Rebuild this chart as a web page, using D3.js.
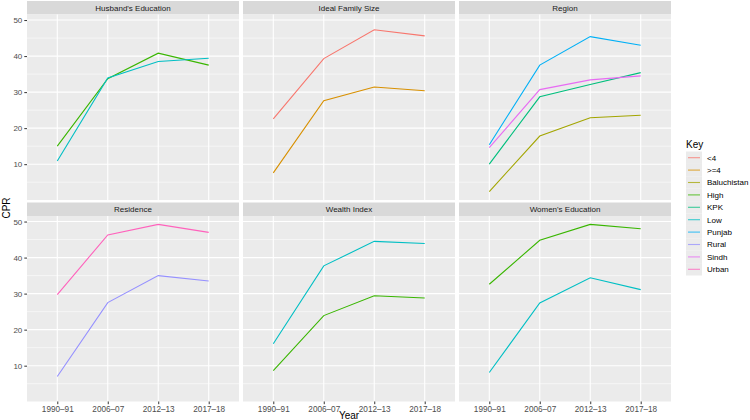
<!DOCTYPE html>
<html>
<head>
<meta charset="utf-8">
<script src="https://cdn.jsdelivr.net/npm/d3@7"></script>
<style>
  body { margin: 0; background: #fff; }
  svg text { font-family: "Liberation Sans", Arial, sans-serif; }
</style>
</head>
<body>
<div id="chart"></div>
<script>
// --- Data ---
const years = ["1990–91", "2006–07", "2012–13", "2017–18"];
const keys = ["<4", ">=4", "Baluchistan", "High", "KPK", "Low", "Punjab", "Rural", "Sindh", "Urban"];
const keyColors = ["#F8766D", "#D89000", "#A3A500", "#39B600", "#00BF7D",
                   "#00BFC4", "#00B0F6", "#9590FF", "#E76BF3", "#FF62BC"];
const panelNames = ["Husband's Education", "Ideal Family Size", "Region",
                    "Residence", "Wealth Index", "Women's Education"];
const yTicks = [10, 20, 30, 40, 50];

const husbandHigh = [15.0, 33.7, 40.8, 37.5];
const husbandLow = [10.9, 33.9, 38.5, 39.4];
const familyLt4 = [22.6, 39.3, 47.3, 45.6];
const familyGe4 = [7.6, 27.6, 31.4, 30.4];
const regionBaluchistan = [2.4, 17.8, 22.9, 23.6];
const regionKPK = [10.0, 28.7, 32.1, 35.4];
const regionPunjab = [15.4, 37.5, 45.4, 43.0];
const regionSindh = [14.6, 30.7, 33.4, 34.5];
const residenceRural = [7.0, 27.5, 35.0, 33.5];
const residenceUrban = [29.7, 46.3, 49.2, 47.0];
const wealthHigh = [8.6, 23.9, 29.4, 28.8];
const wealthLow = [16.1, 37.7, 44.5, 43.9];
const womenHigh = [32.6, 44.8, 49.2, 48.0];
const womenLow = [8.1, 27.4, 34.4, 31.1];

const panelSeries = [
    [{ key: "High", values: husbandHigh }, { key: "Low", values: husbandLow }],
    [{ key: "<4", values: familyLt4 }, { key: ">=4", values: familyGe4 }],
    [{ key: "Baluchistan", values: regionBaluchistan }, { key: "KPK", values: regionKPK },
     { key: "Punjab", values: regionPunjab }, { key: "Sindh", values: regionSindh }],
    [{ key: "Rural", values: residenceRural }, { key: "Urban", values: residenceUrban }],
    [{ key: "High", values: wealthHigh }, { key: "Low", values: wealthLow }],
    [{ key: "High", values: womenHigh }, { key: "Low", values: womenLow }]
];

// --- Layout ---
const width = 750, height = 420;
const colX = [27, 243, 459];
const panelW = 212;
const stripTop = [1, 202.5];
const stripH = 13.5;
const panelH = 185.5;

const svg = d3.select("#chart").append("svg")
    .attr("width", width)
    .attr("height", height);

const color = d3.scaleOrdinal().domain(keys).range(keyColors);

// y domain with ggplot-style 5% expansion
const allVals = panelSeries.flat().flatMap(s => s.values);
const [yMin, yMax] = d3.extent(allVals);
const pad = (yMax - yMin) * 0.05;

const x = d3.scalePoint().domain(years).range([0, panelW]).padding(0.6);
const y = d3.scaleLinear().domain([yMin - pad, yMax + pad]).range([panelH, 0]);
const minorTicks = d3.range(5, 51, 10);

const line = d3.line()
    .x((d, i) => x(years[i]))
    .y(d => y(d));

panelNames.forEach((name, p) => {
    const col = p % 3, row = Math.floor(p / 3);
    const g = svg.append("g")
        .attr("transform", `translate(${colX[col]},${stripTop[row]})`);

    // strip
    g.append("rect")
        .attr("width", panelW).attr("height", stripH)
        .attr("fill", "#D9D9D9");
    g.append("text")
        .attr("x", panelW / 2).attr("y", stripH / 2)
        .attr("dy", "0.35em")
        .attr("text-anchor", "middle")
        .attr("font-size", 8)
        .attr("fill", "#1A1A1A")
        .text(name);

    const pg = g.append("g").attr("transform", `translate(0,${stripH})`);
    pg.append("rect")
        .attr("width", panelW).attr("height", panelH)
        .attr("fill", "#EBEBEB");

    // grid
    pg.selectAll(".minor").data(minorTicks).enter().append("line")
        .attr("x1", 0).attr("x2", panelW)
        .attr("y1", d => y(d)).attr("y2", d => y(d))
        .attr("stroke", "#fff").attr("stroke-width", 0.55);
    pg.selectAll(".majorY").data(yTicks).enter().append("line")
        .attr("x1", 0).attr("x2", panelW)
        .attr("y1", d => y(d)).attr("y2", d => y(d))
        .attr("stroke", "#fff").attr("stroke-width", 1.1);
    pg.selectAll(".majorX").data(years).enter().append("line")
        .attr("x1", d => x(d)).attr("x2", d => x(d))
        .attr("y1", 0).attr("y2", panelH)
        .attr("stroke", "#fff").attr("stroke-width", 1.1);

    // lines
    panelSeries[p].forEach(s => {
        pg.append("path")
            .datum(s.values)
            .attr("d", line)
            .attr("fill", "none")
            .attr("stroke", color(s.key))
            .attr("stroke-width", 1.1);
    });

    // axes
    if (col === 0) {
        const ya = pg.append("g").call(d3.axisLeft(y).tickValues(yTicks).tickSize(2.7).tickPadding(2));
        ya.select(".domain").remove();
        ya.selectAll("line").attr("stroke", "#333");
        ya.selectAll("text").attr("font-size", 8).attr("fill", "#4D4D4D");
    }
    if (row === 1) {
        const xa = pg.append("g").attr("transform", `translate(0,${panelH})`)
            .call(d3.axisBottom(x).tickSize(2.7).tickPadding(1.5));
        xa.select(".domain").remove();
        xa.selectAll("line").attr("stroke", "#333");
        xa.selectAll("text").attr("font-size", 8.2).attr("fill", "#4D4D4D");
    }
});

// axis titles
svg.append("text")
    .attr("x", (colX[0] + colX[2] + panelW) / 2).attr("y", 419)
    .attr("text-anchor", "middle")
    .attr("font-size", 10)
    .attr("fill", "#000")
    .text("Year");
svg.append("text")
    .attr("transform", `translate(9.5,${(stripTop[0] + stripH + stripTop[1] + stripH + panelH) / 2}) rotate(-90)`)
    .attr("text-anchor", "middle")
    .attr("font-size", 10)
    .attr("fill", "#000")
    .text("CPR");

// legend
const legend = svg.append("g").attr("transform", "translate(686,0)");
legend.append("text")
    .attr("x", 0).attr("y", 148)
    .attr("font-size", 10)
    .attr("fill", "#000")
    .text("Key");
const itemH = 12.4;
const items = legend.selectAll(".item").data(keys).enter().append("g")
    .attr("transform", (d, i) => `translate(0,${151.5 + i * itemH})`);
items.append("rect")
    .attr("width", 16).attr("height", itemH)
    .attr("fill", "#EBEBEB");
items.append("line")
    .attr("x1", 2).attr("x2", 14)
    .attr("y1", itemH / 2).attr("y2", itemH / 2)
    .attr("stroke", d => color(d))
    .attr("stroke-opacity", 0.75)
    .attr("stroke-width", 1.1);
items.append("text")
    .attr("x", 21).attr("y", itemH / 2)
    .attr("dy", "0.35em")
    .attr("font-size", 8)
    .attr("fill", "#000")
    .text(d => d);
</script>
</body>
</html>
